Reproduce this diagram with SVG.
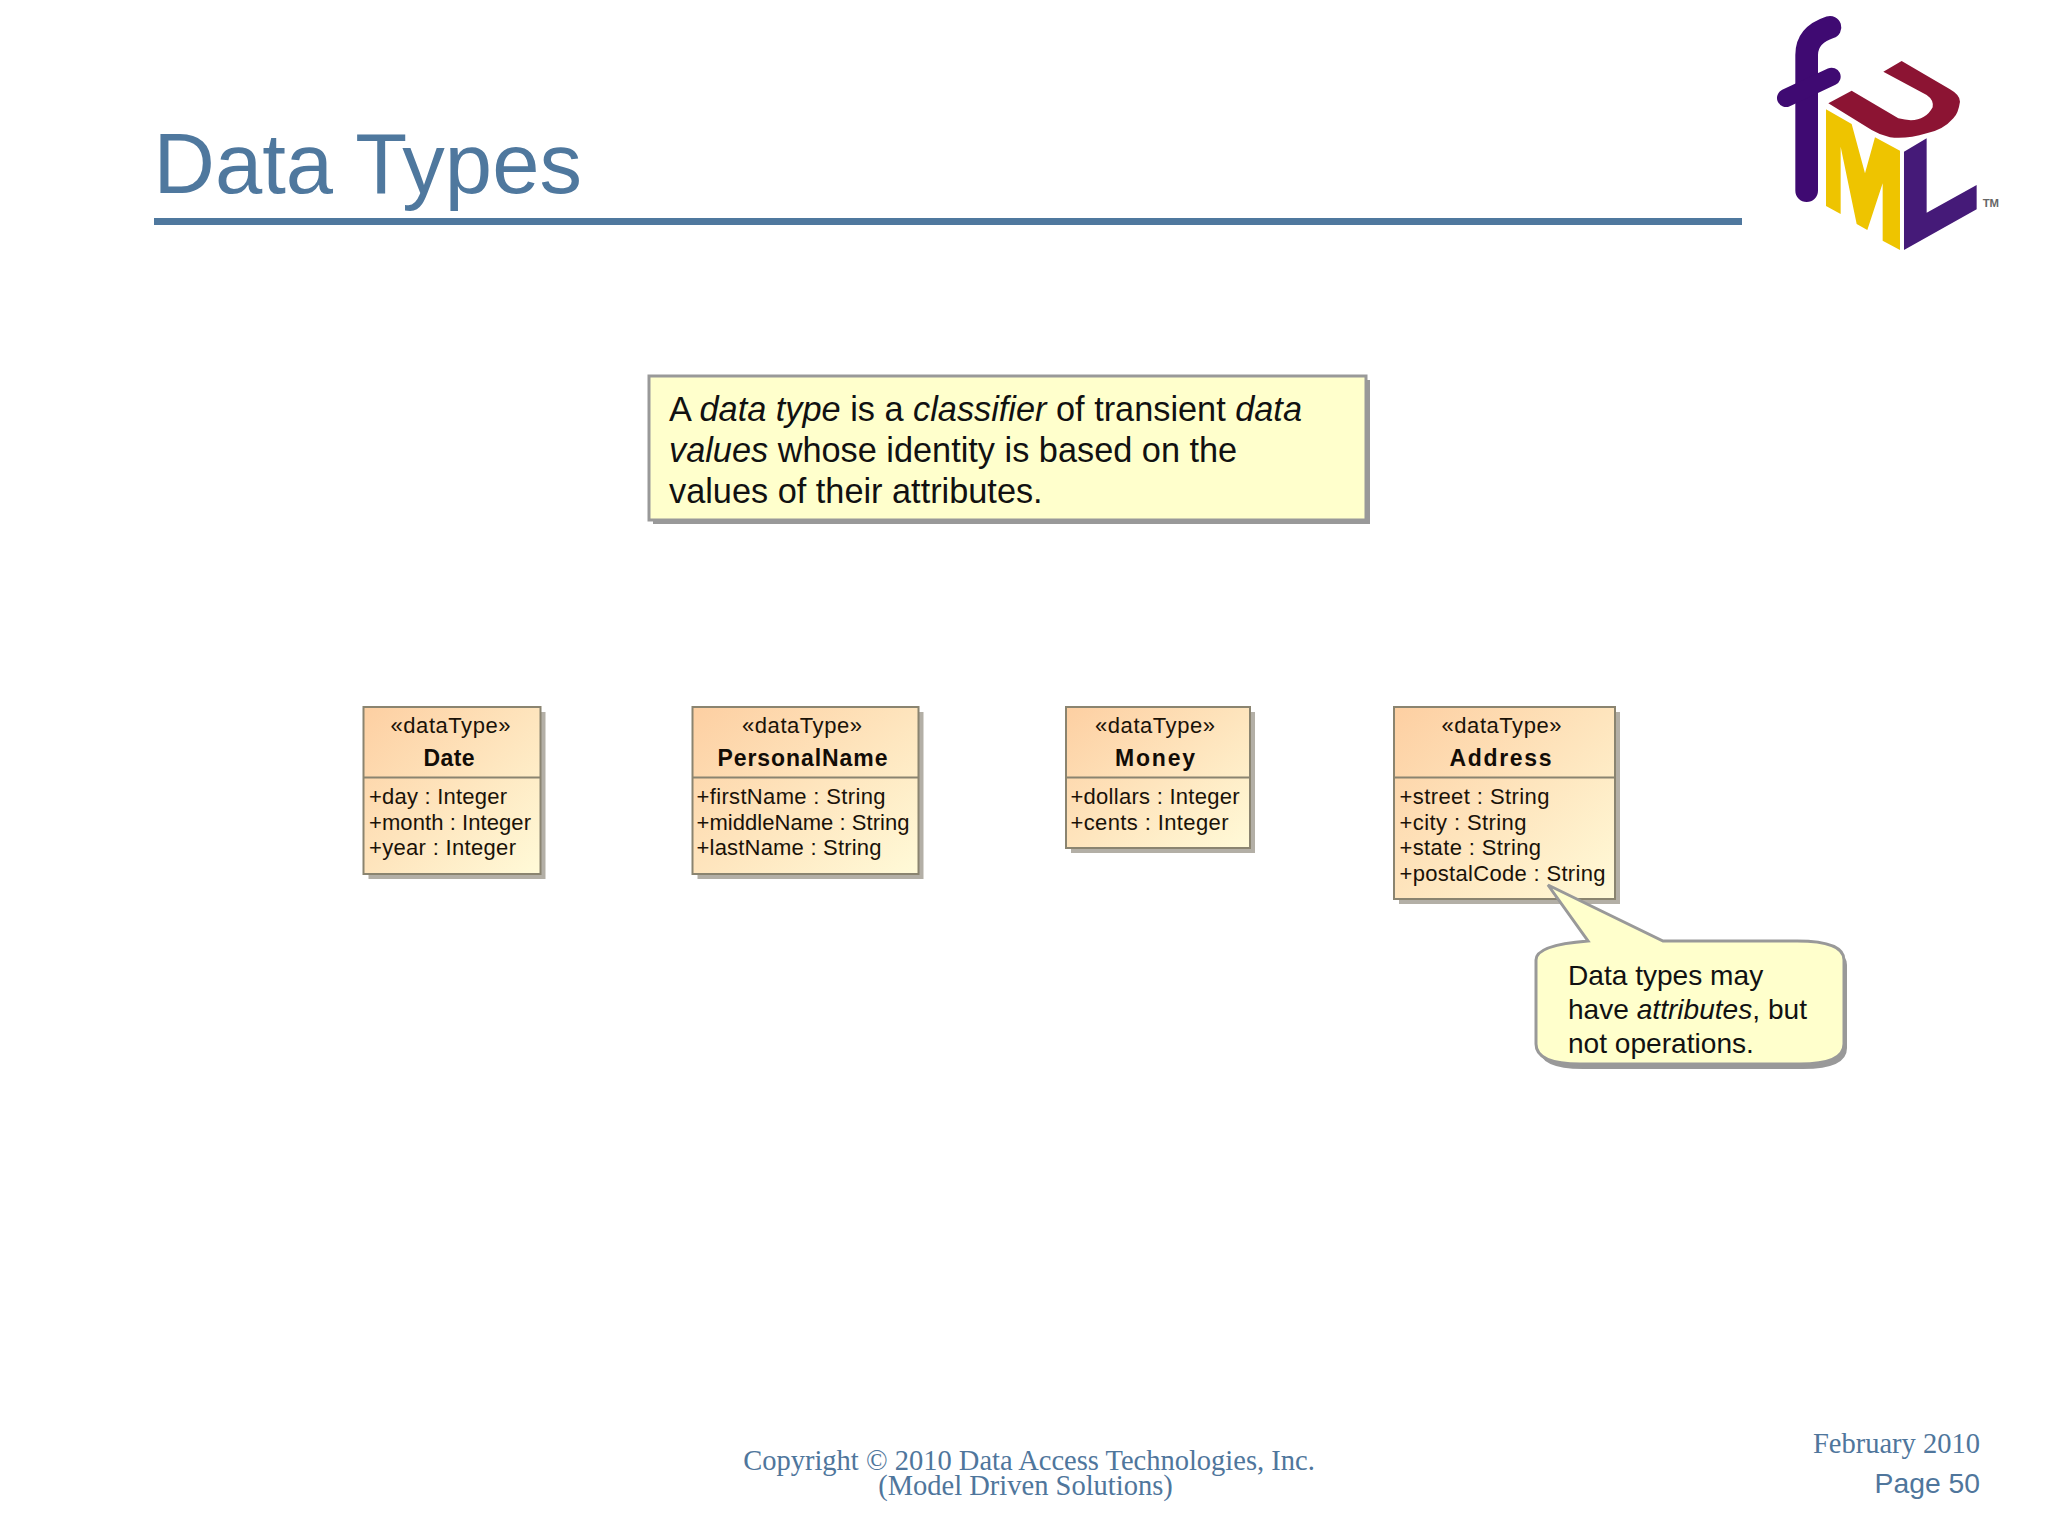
<svg xmlns="http://www.w3.org/2000/svg" width="2048" height="1536" viewBox="0 0 2048 1536">
<style>
.t{font-family:"Liberation Sans",Arial,sans-serif}
.s{font-family:"Liberation Serif","Times New Roman",serif;fill:#4f769c;font-size:28.5px}
.cls{fill:url(#g);stroke:#8a8470;stroke-width:2}
.shc{fill:#b3afa6}
.st{font-family:"Liberation Sans",sans-serif;font-size:22px;fill:#1a1208;text-anchor:middle}
.nm{font-family:"Liberation Sans",sans-serif;font-size:23px;font-weight:bold;fill:#120c06;text-anchor:middle}
.at{font-family:"Liberation Sans",sans-serif;font-size:22px;fill:#1a1208}
.div{stroke:#8a8470;stroke-width:2}
.note{fill:#ffffcc;stroke:#999;stroke-width:3}
.sh{fill:#999}
</style>
<defs>
<linearGradient id="g" x1="0" y1="0" x2="1" y2="1"><stop offset="0" stop-color="#fdcfa2"/><stop offset="1" stop-color="#fffad8"/></linearGradient>
</defs>
<rect width="2048" height="1536" fill="#ffffff"/>
<g id="title">
<text class="t" x="153.5" y="192.5" font-size="85" fill="#4f789e">Data Types</text>
<rect x="154" y="218" width="1588" height="7" fill="#4f789e"/>
</g>
<g id="logo">
<g transform="translate(1740,0) scale(0.3333)" fill="none" stroke="#3f0a72" stroke-linecap="round">
<path d="M200 572V165Q200 105 270 82" stroke-width="68"/>
<path d="M138 294L275 230" stroke-width="54"/>
</g>
<g transform="translate(1810,50) scale(0.3333)">
<path d="M55 160L125 122L265 205Q340 225 368 172Q372 150 350 135L220 65L275 33L420 118Q450 135 450 155Q445 190 430 205Q400 240 350 250Q290 268 240 262Q210 255 185 240Z" fill="#8c1433"/>
<path d="M48 178L125 222L165 370L195 262L270 302V600L218 572V400L172 540L140 522L92 290V492L48 468Z" fill="#eec400"/>
<path d="M282 305L350 265V488L500 405V478L282 600Z" fill="#451a78"/>
<text x="518" y="470" font-family="Liberation Sans,sans-serif" font-size="34" font-weight="bold" fill="#666">TM</text>
</g>
</g>
<g id="note">
<rect class="sh" x="653" y="380" width="717" height="144"/>
<rect class="note" x="649" y="376" width="717" height="144"/>
<text class="t" font-size="34.3" fill="#111"><tspan x="669" y="420.500">A </tspan><tspan font-style="italic">data type</tspan><tspan> is a </tspan><tspan font-style="italic">classifier</tspan><tspan> of transient </tspan><tspan font-style="italic">data</tspan><tspan x="669" y="461.500" font-style="italic">values</tspan><tspan> whose identity is based on the</tspan><tspan x="669" y="502.500">values of their attributes.</tspan></text>
</g>
<g id="date">
<rect class="shc" x="368.500" y="712" width="177" height="167"/>
<rect class="cls" x="363.500" y="707" width="177" height="167"/>
<line class="div" x1="363.500" y1="777.500" x2="540.500" y2="777.500"/>
<text class="st" x="450.500" y="733" textLength="120">«dataType»</text>
<text class="nm" x="449" y="766" textLength="51">Date</text>
<text class="at" x="369" y="804" textLength="138">+day : Integer</text>
<text class="at" x="369" y="829.500" textLength="162">+month : Integer</text>
<text class="at" x="369" y="855" textLength="147">+year : Integer</text>
</g>
<g id="personalName">
<rect class="shc" x="697.500" y="712" width="226" height="167"/>
<rect class="cls" x="692.500" y="707" width="226" height="167"/>
<line class="div" x1="692.500" y1="777.500" x2="918.500" y2="777.500"/>
<text class="st" x="802" y="733" textLength="120">«dataType»</text>
<text class="nm" x="802.500" y="766" textLength="170">PersonalName</text>
<text class="at" x="696.500" y="804" textLength="189">+firstName : String</text>
<text class="at" x="696.500" y="829.500" textLength="213">+middleName : String</text>
<text class="at" x="696.500" y="855" textLength="185">+lastName : String</text>
</g>
<g id="money">
<rect class="shc" x="1071" y="712" width="184" height="141"/>
<rect class="cls" x="1066" y="707" width="184" height="141"/>
<line class="div" x1="1066" y1="777.500" x2="1250" y2="777.500"/>
<text class="st" x="1155" y="733" textLength="120">«dataType»</text>
<text class="nm" x="1155" y="766" textLength="80">Money</text>
<text class="at" x="1070.500" y="804" textLength="169">+dollars : Integer</text>
<text class="at" x="1070.500" y="829.500" textLength="158">+cents : Integer</text>
</g>
<g id="address">
<rect class="shc" x="1399" y="712" width="221" height="192"/>
<rect class="cls" x="1394" y="707" width="221" height="192"/>
<line class="div" x1="1394" y1="777.500" x2="1615" y2="777.500"/>
<text class="st" x="1501.500" y="733" textLength="120">«dataType»</text>
<text class="nm" x="1500.500" y="766" textLength="102">Address</text>
<text class="at" x="1399.500" y="804" textLength="150">+street : String</text>
<text class="at" x="1399.500" y="829.500" textLength="127">+city : String</text>
<text class="at" x="1399.500" y="855" textLength="141.500">+state : String</text>
<text class="at" x="1399.500" y="881" textLength="206">+postalCode : String</text>
</g>
<g id="callout">
<path class="sh" d="M1551 891L1591 946Q1539 950 1539 965V1048Q1539 1069 1583 1069H1803Q1847 1069 1847 1048V965Q1847 946 1800 946H1666Z"/>
<path class="note" d="M1548 885L1588 941Q1536 945 1536 960V1044Q1536 1064 1580 1064H1800Q1844 1064 1844 1044V960Q1844 941 1797 941H1663Z"/>
<text class="t" font-size="28.1" fill="#111"><tspan x="1568" y="984.500">Data types may</tspan><tspan x="1568" y="1018.500">have </tspan><tspan font-style="italic">attributes</tspan><tspan>, but</tspan><tspan x="1568" y="1052.500">not operations.</tspan></text>
</g>
<g id="footer">
<text class="s" x="1029" y="1470" text-anchor="middle">Copyright © 2010 Data Access Technologies, Inc.</text>
<text class="s" x="1025.500" y="1495" text-anchor="middle">(Model Driven Solutions)</text>
<text class="s" x="1980" y="1453" text-anchor="end">February 2010</text>
<text class="t" x="1980" y="1493" font-size="28.3" fill="#4f769c" text-anchor="end">Page 50</text>
</g>
</svg>
